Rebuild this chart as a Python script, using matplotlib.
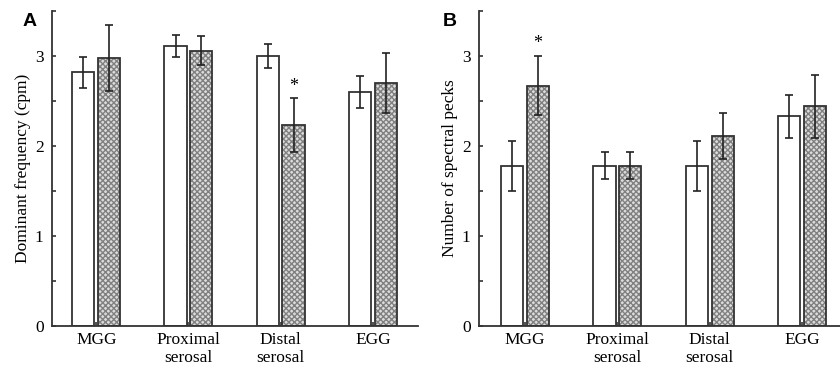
import numpy as np
import matplotlib
matplotlib.use("Agg")
import matplotlib.pyplot as plt

plt.rcParams['font.family'] = ['Liberation Serif', 'DejaVu Serif']

groups = ['MGG', 'Proximal\nserosal', 'Distal\nserosal', 'EGG']

# panel A: dominant frequency (cpm)
freq_open = [2.82, 3.11, 3.00, 2.60]
freq_open_err = [0.17, 0.12, 0.13, 0.18]
freq_hatch = [2.98, 3.06, 2.23, 2.70]
freq_hatch_err = [0.37, 0.16, 0.30, 0.33]
freq_star = [2]          # hatched bars marked with *

# panel B: number of spectral peaks
peak_open = [1.78, 1.78, 1.78, 2.33]
peak_open_err = [0.28, 0.15, 0.28, 0.24]
peak_hatch = [2.67, 1.78, 2.11, 2.44]
peak_hatch_err = [0.33, 0.15, 0.26, 0.35]
peak_star = [0]

fig = plt.figure(figsize=(8.4, 3.72), dpi=100)
axA = fig.add_axes([0.0619, 0.1237, 0.4357, 0.8467])
axB = fig.add_axes([0.5702, 0.1237, 0.4298, 0.8467])

edge = '#333333'
w = 0.24
off = 0.14


def panel(ax, op, ope, ha, hae, stars, ylabel, xlim):
    x = np.arange(len(groups))
    ax.bar(x - off, op, w, color='white', edgecolor=edge, lw=1.3)
    # hatched fill then outline
    ax.bar(x + off, ha, w, color='#dcdcdc', edgecolor='#808080', hatch='xxxxxx', lw=0)
    ax.bar(x + off, ha, w, fill=False, edgecolor=edge, lw=1.3)
    ax.errorbar(x - off, op, yerr=ope, fmt='none', ecolor='#222222', elinewidth=1.2, capsize=3, capthick=1.2)
    ax.errorbar(x + off, ha, yerr=hae, fmt='none', ecolor='#222222', elinewidth=1.2, capsize=3, capthick=1.2)
    for i in stars:
        ax.text(x[i] + off, ha[i] + hae[i] + 0.04, '*', ha='center', va='bottom', fontsize=13)
    ax.set_ylim(0, 3.5)
    ax.set_xlim(*xlim)
    ax.set_yticks(np.arange(0, 3.51, 0.5))
    ax.set_yticklabels(['0', '', '1', '', '2', '', '3', ''])
    ax.set_xticks(x)
    ax.set_xticklabels(groups)
    ax.tick_params(direction='in', length=3, width=1.2, labelsize=12.5, color='#333333')
    ax.tick_params(axis='y', pad=6)
    ax.tick_params(axis='x', pad=4)
    for s in ['top', 'right']:
        ax.spines[s].set_visible(False)
    for s in ['left', 'bottom']:
        ax.spines[s].set_linewidth(1.3)
        ax.spines[s].set_color('#333333')
    ax.set_ylabel(ylabel, fontsize=12.5, labelpad=3)


panel(axA, freq_open, freq_open_err, freq_hatch, freq_hatch_err, freq_star,
      'Dominant frequency (cpm)', (-0.48, 3.49))
panel(axB, peak_open, peak_open_err, peak_hatch, peak_hatch_err, peak_star,
      'Number of spectral pecks', (-0.5, 3.41))

fig.text(0.027, 0.93, 'A', fontsize=14, fontweight='bold', family='Liberation Sans')
fig.text(0.527, 0.93, 'B', fontsize=14, fontweight='bold', family='Liberation Sans')

fig.savefig('out.png', dpi=100)
